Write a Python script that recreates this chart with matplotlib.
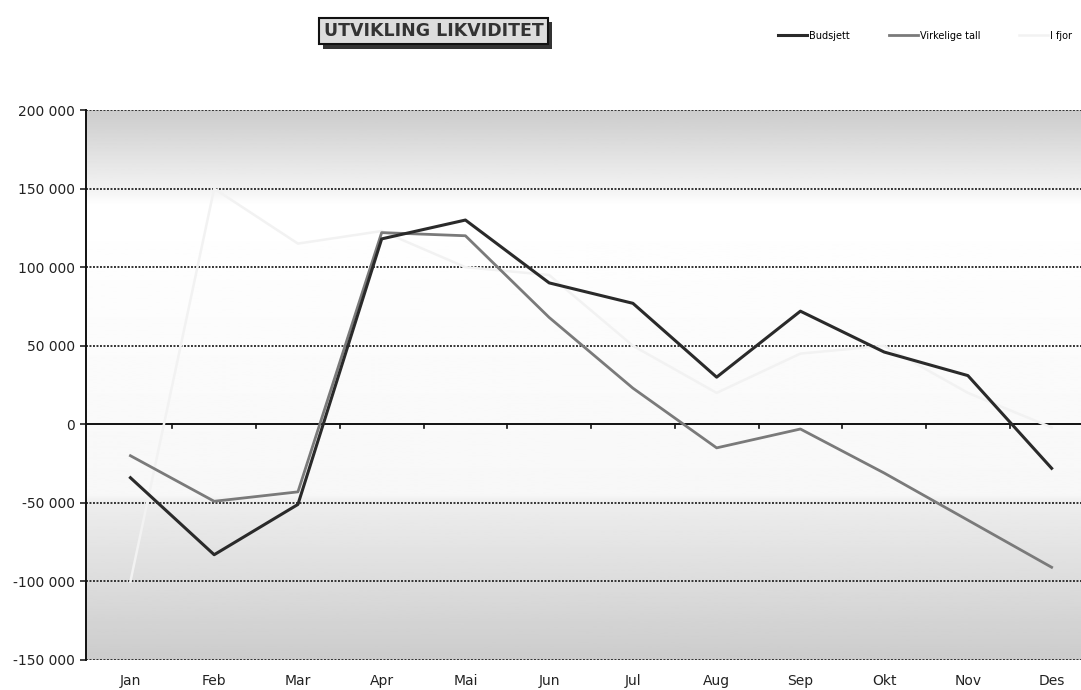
import numpy as np
import matplotlib
matplotlib.use("Agg")
import matplotlib.pyplot as plt
import matplotlib.patheffects as pe
from matplotlib.ticker import FuncFormatter

maaneder = ["Jan", "Feb", "Mar", "Apr", "Mai", "Jun", "Jul", "Aug", "Sep", "Okt", "Nov", "Des"]
budsjett = [-34000, -83000, -51000, 118000, 130000, 90000, 77000, 30000, 72000, 46000, 31000, -28000]
virkelige = [-20000, -49000, -43000, 122000, 120000, 68000, 23000, -15000, -3000, -31000, -61000, -91000]
i_fjor = [-100000, 150000, 115000, 123000, 100000, 95000, 50000, 20000, 45000, 50000, 20000, -2000]
y_ticks = [-150000, -100000, -50000, 0, 50000, 100000, 150000, 200000]

fig = plt.figure(figsize=(10.81, 6.9), dpi=100)
ax = fig.add_axes([0.0796, 0.0435, 0.925, 0.797])

x = np.arange(len(maaneder))
ax.set_xlim(-0.53, 11.41)
ax.set_ylim(-150000, 200000)

# bakgrunn: grå øverst og nederst, hvit i midten
prof_y = np.array([-150000, -50000, -45000, 140000, 150000, 200000])
prof_v = np.array([0.80, 0.93, 0.97, 1.0, 0.95, 0.80])
yy = np.linspace(-150000, 200000, 400)
grad = np.interp(yy, prof_y, prof_v)[:, None]
ax.imshow(grad, cmap="gray", vmin=0, vmax=1, aspect="auto",
          extent=[-0.53, 11.41, -150000, 200000], origin="lower", zorder=0)

for v in y_ticks:
    if v == 0:
        ax.axhline(0, color="#111111", lw=1.4, zorder=1)
    else:
        ax.axhline(v, color="#333333", lw=1.4, ls=(0, (1.0, 0.8)), zorder=1)

# små tick-merker på nullinjen mellom månedene
for xm in x[:-1] + 0.5:
    ax.plot([xm, xm], [0, -2500], color="#111111", lw=1.2, zorder=1)

ax.plot(x, i_fjor, color="#f2f2f2", lw=1.8, label="I fjor", zorder=2)
ax.plot(x, virkelige, color="#7a7a7a", lw=2.0, label="Virkelige tall", zorder=3)
ax.plot(x, budsjett, color="#2a2a2a", lw=2.2, label="Budsjett", zorder=4)

for s in ["top", "right", "bottom"]:
    ax.spines[s].set_visible(False)
ax.spines["left"].set_color("#111111")
ax.spines["left"].set_linewidth(1.4)

ax.set_yticks(y_ticks)
ax.yaxis.set_major_formatter(FuncFormatter(lambda v, p: f"{int(v):,}".replace(",", " ")))
ax.set_xticks(x)
ax.set_xticklabels(maaneder)
ax.tick_params(axis="x", length=0, pad=10, labelsize=10, colors="#222222")
ax.tick_params(axis="y", length=4, width=1.2, pad=4, labelsize=10, colors="#222222")

# tittel med skygge
t = fig.text(0.401, 0.955, "UTVIKLING LIKVIDITET", ha="center", va="center",
             fontsize=12.5, fontweight="bold", color="#333333",
             bbox=dict(boxstyle="square,pad=0.25", fc="#dddddd", ec="#111111", lw=1.5))
t.get_bbox_patch().set_path_effects([
    pe.SimplePatchShadow(offset=(3, -3), shadow_rgbFace="#333333", alpha=1), pe.Normal()])

h, l = ax.get_legend_handles_labels()
fig.legend([h[2], h[1], h[0]], [l[2], l[1], l[0]], loc="center right",
           bbox_to_anchor=(1.0, 0.948), ncol=3, frameon=False, fontsize=7,
           handlelength=3, columnspacing=4, handletextpad=0.2)

fig.savefig("out.png", dpi=100)
